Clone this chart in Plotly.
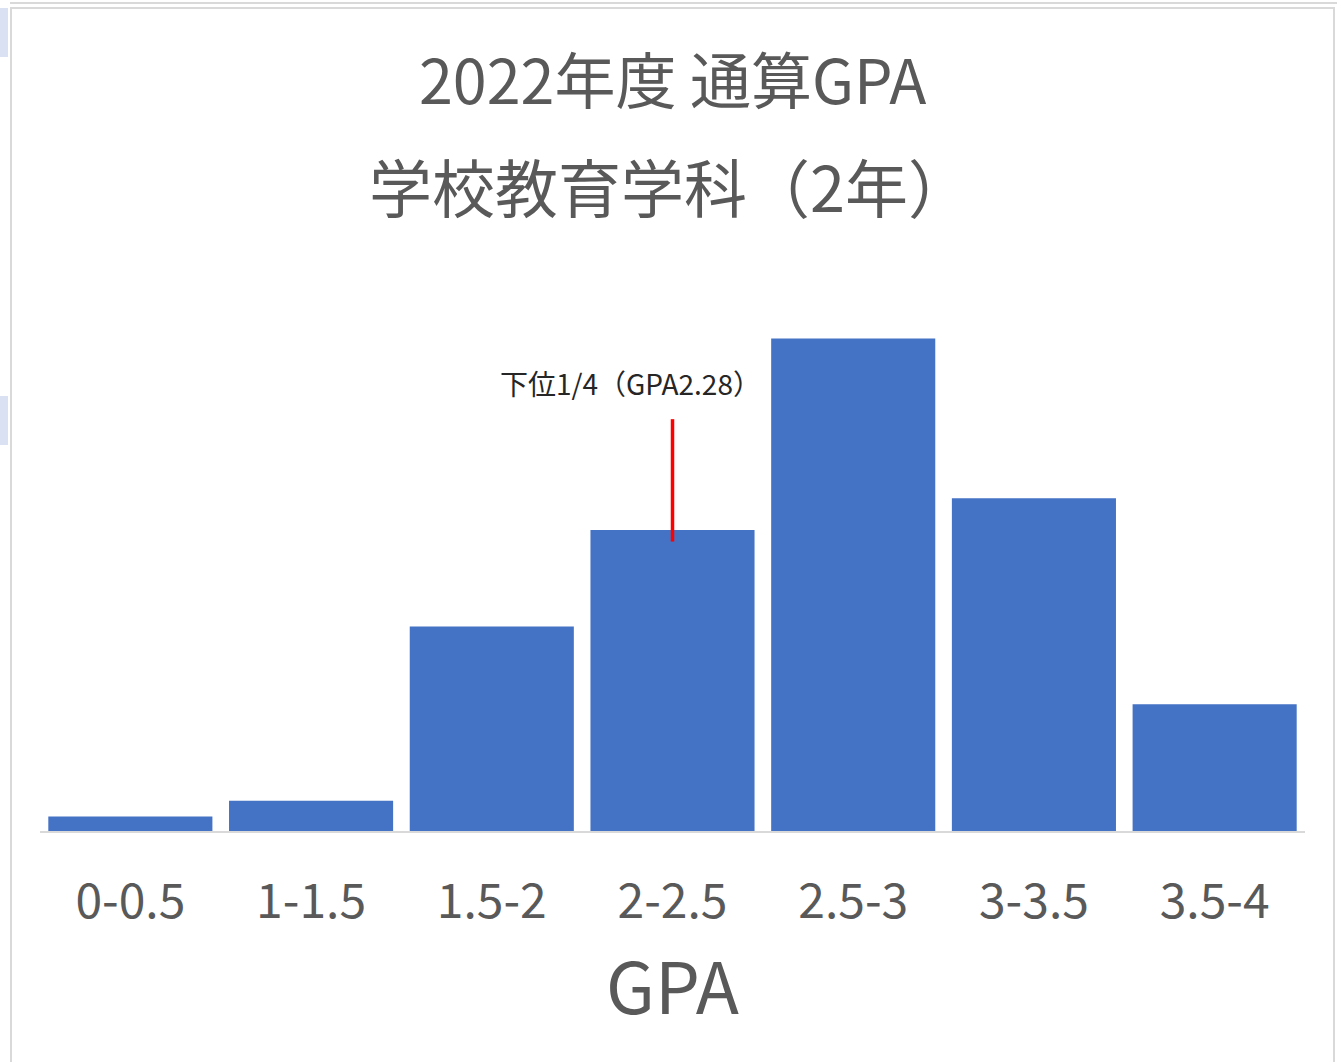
import plotly.graph_objects as go

categories = ["0-0.5", "1-1.5", "1.5-2", "2-2.5", "2.5-3", "3-3.5", "3.5-4"]
counts = [1.0, 2.1, 14.2, 20.9, 34.2, 23.1, 8.8]
title_line1 = "2022年度 通算GPA"
title_line2 = "学校教育学科（2年）"
marker_label = "下位1/4（GPA2.28）"
marker_category = "2-2.5"
marker_span = [20.1, 28.6]

W, H = 1337, 1062
x_left, x_right = 40, 1305
y_base, y_top = 831, 250
unit_px = 14.4
y_max = (y_base - y_top) / unit_px

fontfam = "Noto Sans CJK JP, Noto Sans, sans-serif"
grey = "#595959"

fig = go.Figure()
fig.add_trace(go.Bar(
    x=categories, y=counts,
    marker=dict(color="#4472C4", line=dict(width=0)),
    hoverinfo="x+y",
))

fig.update_layout(
    width=W, height=H,
    margin=dict(l=0, r=0, t=0, b=0),
    paper_bgcolor="white", plot_bgcolor="white",
    bargap=0.092,
    showlegend=False,
    font=dict(family=fontfam, color=grey),
    xaxis=dict(
        domain=[x_left / W, x_right / W],
        showline=True, linecolor="#d9d9d9", linewidth=2,
        showgrid=False, zeroline=False,
        ticks="outside", ticklen=27, tickcolor="rgba(0,0,0,0)",
        tickfont=dict(size=48, color=grey, family=fontfam),
        title=dict(text="GPA", font=dict(size=71, color=grey, family=fontfam), standoff=23),
    ),
    yaxis=dict(
        domain=[(H - y_base) / H, (H - y_top) / H],
        range=[0, y_max],
        visible=False,
    ),
)

# Title lines
fig.add_annotation(text=title_line1, xref="paper", yref="paper",
                   x=673 / W, y=1 - 78 / H, xanchor="center", yanchor="middle",
                   showarrow=False, font=dict(size=61, color=grey, family=fontfam))
fig.add_annotation(text=title_line2, xref="paper", yref="paper",
                   x=670 / W, y=1 - 184 / H, xanchor="center", yanchor="middle",
                   showarrow=False, font=dict(size=63, color=grey, family=fontfam))

# Marker line and label
fig.add_shape(type="line", xref="x", yref="y",
              x0=marker_category, x1=marker_category,
              y0=marker_span[0], y1=marker_span[1],
              line=dict(color="#FF0000", width=3.5))
fig.add_annotation(text=marker_label, xref="x", yref="y",
                   x=marker_category, y=marker_span[1],
                   xshift=-42, yshift=36, xanchor="center", yanchor="middle",
                   showarrow=False, font=dict(size=28, color="#262626", family=fontfam))

# Frame (sheet/chart border)
fig.add_shape(type="line", xref="paper", yref="paper",
              x0=10 / W, x1=1, y0=1 - 3 / H, y1=1 - 3 / H,
              line=dict(color="#d9d9d9", width=2))
fig.add_shape(type="rect", xref="paper", yref="paper",
              x0=11 / W, x1=1334 / W, y0=-0.01, y1=1 - 8 / H,
              line=dict(color="#d9d9d9", width=2), fillcolor="rgba(0,0,0,0)")
for (ya, yb) in [(8, 57), (396, 445)]:
    fig.add_shape(type="rect", xref="paper", yref="paper",
                  x0=0, x1=8 / W, y0=1 - yb / H, y1=1 - ya / H,
                  line=dict(width=0), fillcolor="#dae1f3")

fig.write_html("out.html", config={"displayModeBar": False},
               post_script="document.body.style.margin='0';")
